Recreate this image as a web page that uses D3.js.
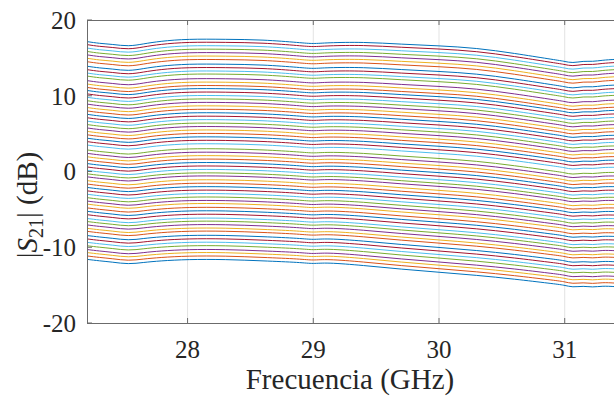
<!DOCTYPE html>
<html>
<head>
<meta charset="utf-8">
<script src="https://cdn.jsdelivr.net/npm/d3@7"></script>
<style>
body { margin: 0; background: #fff; }
</style>
</head>
<body>
<div id="graph"></div>
<script>
// frequency points (GHz)
var freqs = [27.2, 27.3, 27.4, 27.53, 27.65, 27.78, 28.0, 28.3, 28.6, 28.9, 29.0, 29.1,
	29.4, 29.7, 30.0, 30.3, 30.6, 30.9, 31.0, 31.06, 31.15, 31.22, 31.3, 31.4];

// response shape of the highest state, relative to its value at 27.2 GHz (dB)
var shapeHigh = [0, -0.25, -0.35, -0.65, -0.3, 0.05, 0.35, 0.3, 0.25, -0.15, -0.3, -0.15,
	-0.05, -0.35, -0.55, -0.85, -1.55, -2.35, -2.6, -2.85, -2.55, -2.65, -2.45, -2.35];

// response shape of the lowest state, relative to its value at 27.2 GHz (dB)
var shapeLow = [0, -0.2, -0.35, -0.65, -0.4, -0.2, 0, 0, -0.2, -0.4, -0.6, -0.4,
	-0.8, -1.3, -1.7, -2.1, -2.6, -3.2, -3.4, -3.7, -3.5, -3.7, -3.5, -3.6];

// |S21| of every state at 27.2 GHz (dB), state 0 = lowest
var stateLevels = [-11.6, -11.15, -10.7, -10.3, -9.8, -9.35, -8.9, -8.45, -7.9, -7.5,
	-7.05, -6.6, -6.2, -5.7, -5.25, -4.8, -4.3, -3.9, -3.45, -3.0,
	-2.55, -2.1, -1.65, -1.2, -0.7, -0.3, 0.15, 0.6, 1.05, 1.5,
	1.95, 2.4, 2.85, 3.5, 3.95, 4.4, 4.85, 5.3, 5.75, 6.2,
	6.65, 7.1, 7.55, 8.0, 8.45, 8.9, 9.35, 9.8, 10.25, 10.7,
	11.1, 11.55, 12.0, 12.6, 13.0, 13.45, 13.9, 14.5, 14.95, 15.4,
	15.85, 16.3, 16.75, 17.15];

var xTicks = [28, 29, 30, 31];
var yTicks = [-20, -10, 0, 10, 20];

var colors = ["#0072BD", "#D95319", "#EDB120", "#7E2F8E", "#77AC30", "#4DBEEE", "#A2142F"];

var	SVGwidth = 614,
	SVGheight = 396,
	margin = {top: 20, right: -1, bottom: 73, left: 87},
	width = SVGwidth - margin.left - margin.right,
	height = SVGheight - margin.top - margin.bottom;

var fontFamily = "'Liberation Serif', 'Times New Roman', serif";

var svg = d3.select('div#graph')
	.append('svg')
	.attr('width', SVGwidth)
	.attr('height', SVGheight)
	.attr('font-family', fontFamily);

var g = svg.append("g").attr("transform", "translate(" + margin.left + "," + margin.top + ")");

var x = d3.scaleLinear().domain([27.2, 31.4]).range([0, width]);
var y = d3.scaleLinear().domain([-20, 20]).range([height, 0]);

// build the table of traces
var lo = stateLevels[0], hi = stateLevels[stateLevels.length - 1];
var traces = stateLevels.map(function(level) {
	var w = (level - lo) / (hi - lo);
	return freqs.map(function(f, j) {
		return {f: f, v: level + shapeLow[j] + w * (shapeHigh[j] - shapeLow[j])};
	});
});

// grid
g.selectAll("line.grid")
	.data(xTicks)
	.enter()
	.append("line")
	.attr("class", "grid")
	.attr("x1", function(d) { return x(d); })
	.attr("x2", function(d) { return x(d); })
	.attr("y1", 0)
	.attr("y2", height)
	.attr("stroke", "#e3e3e3")
	.attr("stroke-width", 1);

var line = d3.line()
	.curve(d3.curveBasis)
	.x(function(d) { return x(d.f); })
	.y(function(d) { return y(d.v); });

g.selectAll("path.trace")
	.data(traces)
	.enter()
	.append("path")
	.attr("class", "trace")
	.attr("fill", "none")
	.attr("stroke", function(d, i) { return colors[i % 7]; })
	.attr("stroke-width", 1)
	.attr("d", line);

// axes box
var axisColor = "#6b6b6b";
g.append("rect")
	.attr("x", 0.5)
	.attr("y", 0.5)
	.attr("width", width)
	.attr("height", height)
	.attr("fill", "none")
	.attr("stroke", axisColor)
	.attr("stroke-width", 1);

var tickLen = 5;
g.selectAll("line.xtb")
	.data(xTicks)
	.enter()
	.append("line")
	.attr("x1", function(d) { return x(d); })
	.attr("x2", function(d) { return x(d); })
	.attr("y1", height)
	.attr("y2", height - tickLen)
	.attr("stroke", axisColor);
g.selectAll("line.xtt")
	.data(xTicks)
	.enter()
	.append("line")
	.attr("x1", function(d) { return x(d); })
	.attr("x2", function(d) { return x(d); })
	.attr("y1", 0)
	.attr("y2", tickLen)
	.attr("stroke", axisColor);
g.selectAll("line.ytl")
	.data(yTicks)
	.enter()
	.append("line")
	.attr("x1", 0)
	.attr("x2", tickLen)
	.attr("y1", function(d) { return y(d); })
	.attr("y2", function(d) { return y(d); })
	.attr("stroke", axisColor);

// tick labels
g.selectAll("text.xl")
	.data(xTicks)
	.enter()
	.append("text")
	.attr("x", function(d) { return x(d); })
	.attr("y", height + 35)
	.attr("text-anchor", "middle")
	.attr("fill", "#262626")
	.style("font-size", "25px")
	.text(function(d) { return d; });

g.selectAll("text.yl")
	.data(yTicks)
	.enter()
	.append("text")
	.attr("x", -11)
	.attr("y", function(d) { return y(d); })
	.attr("dy", "0.35em")
	.attr("text-anchor", "end")
	.attr("fill", "#262626")
	.style("font-size", "25px")
	.text(function(d) { return d < 0 ? "-" + Math.abs(d) : d; });

// axis titles
svg.append("text")
	.attr("x", 350)
	.attr("y", 389)
	.attr("text-anchor", "middle")
	.attr("fill", "#262626")
	.style("font-size", "29px")
	.text("Frecuencia (GHz)");

var yl = svg.append("text")
	.attr("transform", "translate(37,205) rotate(-90)")
	.attr("text-anchor", "middle")
	.attr("fill", "#262626")
	.style("font-size", "29px");
yl.append("tspan").text("|");
yl.append("tspan").style("font-style", "italic").text("S");
yl.append("tspan").attr("dy", "6").style("font-size", "20px").text("21");
yl.append("tspan").attr("dy", "-6").text("| (dB)");
</script>
</body>
</html>
